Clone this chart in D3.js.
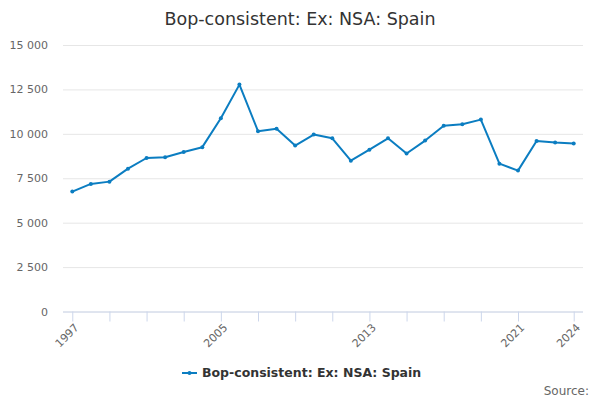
<!DOCTYPE html>
<html>
<head>
<meta charset="utf-8"/>
<title>Bop-consistent: Ex: NSA: Spain</title>
<script src="https://cdn.jsdelivr.net/npm/d3@7"></script>
<style>
	body{margin:0;background:#fff;}
	text{font-family:"DejaVu Sans",sans-serif;}
</style>
</head>
<body>
<script>
var years = [1997,1998,1999,2000,2001,2002,2003,2004,2005,2006,2007,2008,2009,2010,
	2011,2012,2013,2014,2015,2016,2017,2018,2019,2020,2021,2022,2023,2024];
var values = [6750,7180,7310,8040,8640,8680,8980,9250,10880,12770,10150,10280,9340,9960,
	9750,8490,9110,9750,8890,9620,10460,10540,10800,8320,7930,9600,9510,9450];
var yTicks = [0,2500,5000,7500,10000,12500,15000];
var xTickMarks = [1997,1999,2001,2003,2005,2007,2009,2011,2013,2015,2017,2019,2021,2024];
var xLabels = [1997,2005,2013,2021,2024];
var seriesName = "Bop-consistent: Ex: NSA: Spain";

var W = 600, H = 400;
var plotL = 63, plotR = 583, plotT = 45, plotB = 311.5;
var color = "#0b7dc1";

var svg = d3.select("body").append("svg")
	.attr("width", W).attr("height", H);

var x = d3.scaleLinear().domain([1996.5, 2024.5]).range([plotL, plotR]);
var y = d3.scaleLinear().domain([0, 15000]).range([plotB, plotT]);

var fmt = function(v){ return d3.format(",")(v).replace(/,/g, " "); };

// title
svg.append("text")
	.attr("x", W/2).attr("y", 25)
	.attr("text-anchor", "middle")
	.attr("font-size", 17.5)
	.attr("fill", "#333")
	.text(seriesName);

// grid + y labels
var yAxis = d3.axisLeft(y).tickValues(yTicks).tickSize(-(plotR-plotL)).tickFormat(fmt);
var gy = svg.append("g").attr("transform", "translate(" + plotL + ",0)").call(yAxis);
gy.select(".domain").remove();
gy.selectAll(".tick line").attr("stroke", "#e6e6e6");
gy.selectAll(".tick text").attr("x", -15).attr("fill", "#666").attr("font-size", 11)
	.style("font-family", "DejaVu Sans");

// x axis
var xAxis = d3.axisBottom(x).tickValues(xTickMarks).tickSize(10)
	.tickFormat(function(d){ return xLabels.indexOf(d) >= 0 ? d : ""; });
var gx = svg.append("g").attr("transform", "translate(0," + plotB + ")").call(xAxis);
gx.select(".domain").attr("stroke", "#ccd6eb").attr("d", "M" + plotL + ",0.5H" + plotR);
gx.selectAll(".tick line").attr("stroke", "#ccd6eb");
gx.selectAll(".tick text")
	.attr("fill", "#666").attr("font-size", 11)
	.style("font-family", "DejaVu Sans")
	.attr("text-anchor", "end")
	.attr("transform", "translate(4,14) rotate(-45)")
	.attr("y", 0).attr("dy", "0.35em");

// line
var line = d3.line().x(function(d, i){ return x(years[i]); }).y(function(d){ return y(d); });
svg.append("path").datum(values)
	.attr("fill", "none").attr("stroke", color).attr("stroke-width", 2)
	.attr("stroke-linejoin", "round")
	.attr("d", line);

svg.selectAll("circle.pt").data(values).enter().append("circle")
	.attr("class", "pt")
	.attr("cx", function(d, i){ return x(years[i]); })
	.attr("cy", function(d){ return y(d); })
	.attr("r", 2).attr("fill", color);

// legend
var lg = svg.append("g").attr("transform", "translate(182,373)");
lg.append("line").attr("x1", 0).attr("x2", 15).attr("y1", 0).attr("y2", 0)
	.attr("stroke", color).attr("stroke-width", 2);
lg.append("circle").attr("cx", 7.5).attr("cy", 0).attr("r", 2).attr("fill", color);
lg.append("text").attr("x", 20).attr("y", 0).attr("dy", "0.35em")
	.attr("font-size", 12.5).attr("font-weight", "bold").attr("fill", "#333")
	.text(seriesName);

// credits
svg.append("text").attr("x", 589).attr("y", 395)
	.attr("text-anchor", "end").attr("font-size", 12).attr("fill", "#666")
	.text("Source:");
</script>
</body>
</html>
